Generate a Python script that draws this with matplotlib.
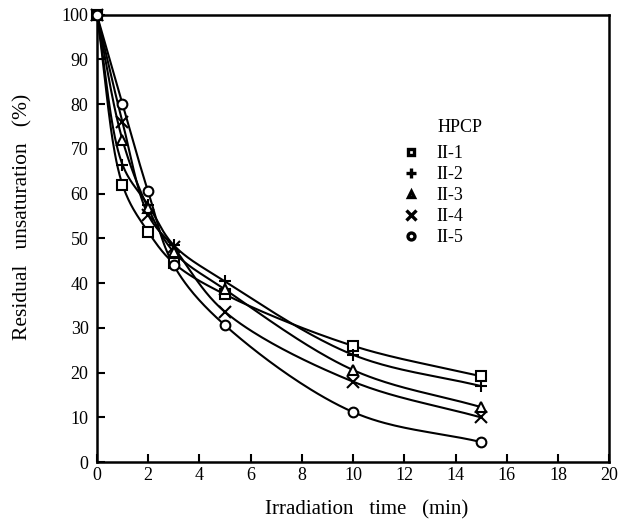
import matplotlib.pyplot as plt
import numpy as np
from matplotlib.lines import Line2D

plt.rcParams['font.family'] = ['Liberation Serif', 'DejaVu Serif']

# irradiation time (min)
t = [0, 1, 2, 3, 5, 10, 15]
# residual unsaturation (%)
ii1 = [100, 62, 51.5, 44.5, 37.5, 26, 19.2]
ii2 = [100, 66.5, 57.5, 48.5, 40.4, 24, 17]
ii3 = [100, 72, 56.8, 47, 38.6, 20.6, 12.3]
ii4 = [100, 76, 55.3, 48, 33.6, 18, 10]
ii5 = [100, 80, 60.5, 44, 30.6, 11.2, 4.5]

names = ["II-1", "II-2", "II-3", "II-4", "II-5"]
series = [ii1, ii2, ii3, ii4, ii5]
markers = ["s", "+", "^", "x", "o"]


def smooth_curve(x, y, n=40):
    # centripetal Catmull-Rom through the points, only for drawing the line
    sx, sy = 25.6, 4.47  # roughly equal screen scale for both axes
    P = np.column_stack([np.asarray(x, float) * sx, np.asarray(y, float) * sy])
    P = np.vstack([2 * P[0] - P[1], P, 2 * P[-1] - P[-2]])
    out = []
    for i in range(1, len(P) - 2):
        p0, p1, p2, p3 = P[i - 1], P[i], P[i + 1], P[i + 2]
        t0 = 0.0
        t1 = t0 + np.linalg.norm(p1 - p0) ** 0.5
        t2 = t1 + np.linalg.norm(p2 - p1) ** 0.5
        t3 = t2 + np.linalg.norm(p3 - p2) ** 0.5
        tt = np.linspace(t1, t2, n)[:, None]
        a1 = (t1 - tt) / (t1 - t0) * p0 + (tt - t0) / (t1 - t0) * p1
        a2 = (t2 - tt) / (t2 - t1) * p1 + (tt - t1) / (t2 - t1) * p2
        a3 = (t3 - tt) / (t3 - t2) * p2 + (tt - t2) / (t3 - t2) * p3
        b1 = (t2 - tt) / (t2 - t0) * a1 + (tt - t0) / (t2 - t0) * a2
        b2 = (t3 - tt) / (t3 - t1) * a2 + (tt - t1) / (t3 - t1) * a3
        c = (t2 - tt) / (t2 - t1) * b1 + (tt - t1) / (t2 - t1) * b2
        out.append(c)
    c = np.vstack(out)
    return c[:, 0] / sx, c[:, 1] / sy


fig = plt.figure(figsize=(6.21, 5.27), dpi=100)
ax = fig.add_axes([0.156, 0.123, 0.825, 0.849])

handles = []
for name, y, mk in zip(names, series, markers):
    cx, cy = smooth_curve(t, y)
    ax.plot(cx, cy, color="black", lw=1.5)
    ms = 7 if mk in ("s", "^", "o") else 8
    ax.plot(t, y, ls="none", marker=mk, ms=ms, mfc="white", mec="black", mew=1.5, clip_on=False, zorder=3)
    lms = 5 if mk in ("s", "^", "o") else 7
    handles.append(Line2D([], [], ls="none", marker=mk, ms=lms, mfc="white", mec="black", mew=2.4, label=name))

ax.set_xlim(0, 20)
ax.set_ylim(0, 100)
ax.set_xticks(np.arange(0, 21, 2))
ax.set_yticks(np.arange(0, 101, 10))
ax.tick_params(direction="in", length=6, width=1.5, labelsize=13, top=False, right=False)
ax.tick_params(axis="y", pad=6)
for sp in ax.spines.values():
    sp.set_linewidth(1.8)

ax.set_xlabel("Irradiation   time   (min)", fontsize=15, va="center")
ax.xaxis.set_label_coords(0.526, -0.107)
ax.set_ylabel("Residual   unsaturation   (%)", fontsize=15.5, va="center")
ax.yaxis.set_label_coords(-0.144, 0.548)

ax.text(0.664, 0.749, "HPCP", transform=ax.transAxes, fontsize=13, ha="left", va="center")
ax.legend(handles=handles, frameon=False, fontsize=13,
          loc="upper left", bbox_to_anchor=(0.56, 0.745), handletextpad=0.8,
          labelspacing=0.22, handlelength=1.2)

fig.savefig("out.png", dpi=100)
